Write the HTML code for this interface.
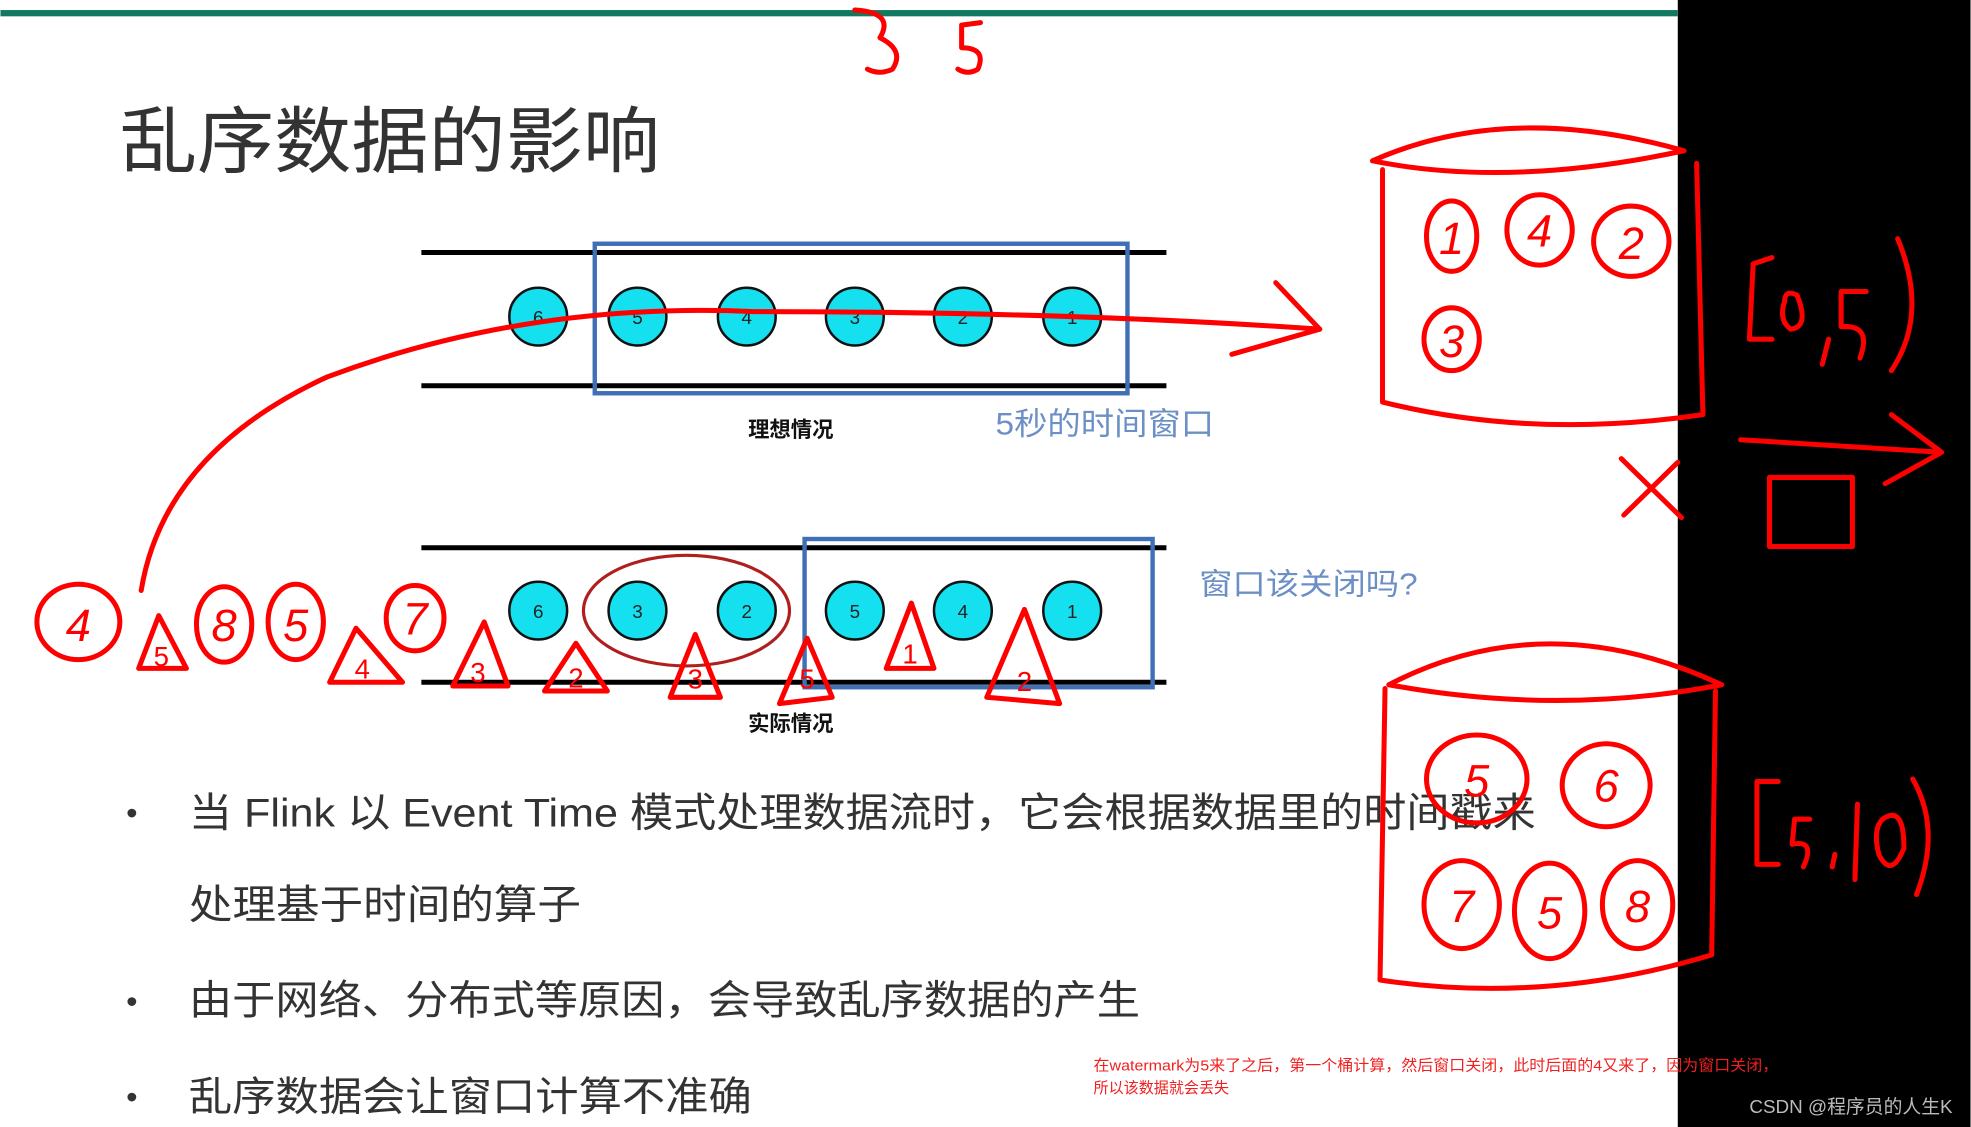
<!DOCTYPE html>
<html><head><meta charset="utf-8"><style>
html,body{margin:0;padding:0;background:#fff;overflow:hidden}
svg{display:block}
text{font-family:"Liberation Sans","Noto Sans CJK SC",sans-serif}
</style></head><body>
<svg width="1971" height="1127" viewBox="0 0 1568 897" xmlns="http://www.w3.org/2000/svg">
<rect width="1568" height="897" fill="#fff"/>
<rect x="1335" y="0" width="233" height="897" fill="#000"/>
<rect x="0" y="8" width="1335" height="5" fill="#10795f"/>
<text x="95" y="133" font-size="58" fill="#333" textLength="430" lengthAdjust="spacingAndGlyphs">乱序数据的影响</text>
<g stroke="#000" stroke-width="4"><line x1="335" y1="201" x2="928" y2="201"/><line x1="335" y1="307" x2="928" y2="307"/>
<line x1="335" y1="436" x2="928" y2="436"/><line x1="335" y1="543" x2="928" y2="543"/></g>
<rect x="473" y="194" width="424" height="119" fill="none" stroke="#3f6fb5" stroke-width="3.5"/>
<rect x="640" y="429" width="277" height="118" fill="none" stroke="#3f6fb5" stroke-width="3.5"/>
<g fill="#14e0ef" stroke="#111" stroke-width="2">
<circle cx="428" cy="252" r="23"/><circle cx="507" cy="252" r="23"/><circle cx="594" cy="252" r="23"/><circle cx="680" cy="252" r="23"/><circle cx="766" cy="252" r="23"/><circle cx="853" cy="252" r="23"/>
<circle cx="428" cy="486" r="23"/><circle cx="507" cy="486" r="23"/><circle cx="594" cy="486" r="23"/><circle cx="680" cy="486" r="23"/><circle cx="766" cy="486" r="23"/><circle cx="853" cy="486" r="23"/>
</g>
<g font-size="15" text-anchor="middle" fill="#222">
<text x="428" y="258">6</text><text x="507" y="258">5</text><text x="594" y="258">4</text><text x="680" y="258">3</text><text x="766" y="258">2</text><text x="853" y="258">1</text>
<text x="428" y="492">6</text><text x="507" y="492">3</text><text x="594" y="492">2</text><text x="680" y="492">5</text><text x="766" y="492">4</text><text x="853" y="492">1</text>
</g>
<ellipse cx="546" cy="486" rx="82" ry="44" fill="none" stroke="#b01e1e" stroke-width="2.5"/>
<text x="629" y="348" font-size="17" font-weight="bold" text-anchor="middle" fill="#111">理想情况</text>
<text x="629" y="582" font-size="17" font-weight="bold" text-anchor="middle" fill="#111">实际情况</text>
<text x="792" y="346" font-size="25" fill="#6c8fc6" textLength="174" lengthAdjust="spacingAndGlyphs">5秒的时间窗口</text>
<text x="954" y="473" font-size="24" fill="#6c8fc6" textLength="174" lengthAdjust="spacingAndGlyphs">窗口该关闭吗?</text>
<g font-size="32" fill="#333">
<text x="100" y="656" font-size="26">•</text><text x="150" y="658" textLength="1072" lengthAdjust="spacingAndGlyphs">当 Flink 以 Event Time 模式处理数据流时，它会根据数据里的时间戳来</text>
<text x="150" y="731" textLength="312" lengthAdjust="spacingAndGlyphs">处理基于时间的算子</text>
<text x="100" y="806" font-size="26">•</text><text x="150" y="807" textLength="757" lengthAdjust="spacingAndGlyphs">由于网络、分布式等原因，会导致乱序数据的产生</text>
<text x="100" y="882" font-size="26">•</text><text x="150" y="884" textLength="448" lengthAdjust="spacingAndGlyphs">乱序数据会让窗口计算不准确</text>
</g>
<text x="870" y="852" font-size="12" fill="#f02020" textLength="545" lengthAdjust="spacingAndGlyphs">在watermark为5来了之后，第一个桶计算，然后窗口关闭，此时后面的4又来了，因为窗口关闭，</text>
<text x="870" y="870" font-size="12" fill="#f02020">所以该数据就会丢失</text>
<text x="1392" y="886" font-size="15" fill="#bbb">CSDN @程序员的人生K</text>
<g fill="none" stroke="#f00" stroke-width="4" stroke-linecap="round" stroke-linejoin="round">
<path d="M680 8 Q712 10 700 30 Q720 40 710 55 Q700 60 690 55"/>
<path d="M780 18 L765 20 L765 38 Q785 38 778 55 Q770 60 762 55"/>
<path d="M112 470 Q130 360 260 300 Q420 240 600 248 Q850 248 1050 262"/>
<path d="M1015 225 L1050 262 L980 282"/>
<path d="M1092 128 Q1200 80 1340 120 Q1200 150 1092 128 Z"/>
<path d="M1100 135 L1100 320 Q1220 350 1355 330 L1350 130"/>
<ellipse cx="1155" cy="188" rx="20" ry="28"/><ellipse cx="1225" cy="183" rx="26" ry="28"/><ellipse cx="1298" cy="192" rx="30" ry="28"/><ellipse cx="1155" cy="270" rx="22" ry="25"/>
<path d="M1105 545 Q1230 480 1370 545 Q1240 570 1105 545 Z"/>
<path d="M1102 548 L1098 780 Q1230 800 1362 760 L1365 550"/>
<ellipse cx="1175" cy="620" rx="40" ry="35"/><ellipse cx="1278" cy="625" rx="35" ry="33"/>
<ellipse cx="1163" cy="720" rx="30" ry="35"/><ellipse cx="1233" cy="725" rx="28" ry="38"/><ellipse cx="1303" cy="720" rx="28" ry="35"/>
<path d="M1290 365 L1338 412 M1335 368 L1292 410"/>
<path d="M1385 350 L1545 360 M1505 330 L1545 360 L1500 385"/>
<rect x="1408" y="380" width="66" height="55"/>
<path d="M1410 205 L1395 210 L1392 270 L1410 270 M1420 240 Q1420 230 1430 235 Q1440 260 1425 262 Q1415 255 1420 240 M1455 270 L1450 290 M1485 232 L1465 232 L1465 260 Q1490 258 1480 285 M1510 190 Q1535 250 1505 295"/>
<path d="M1415 622 L1398 622 L1398 688 L1415 688 M1440 652 L1428 652 L1426 672 Q1445 668 1435 690 M1460 680 L1458 690 M1478 640 L1476 700 M1498 652 Q1515 640 1515 675 Q1505 700 1495 680 Q1490 660 1498 652 M1522 620 Q1545 660 1525 712"/>
<ellipse cx="62" cy="495" rx="33" ry="30"/><ellipse cx="178" cy="497" rx="22" ry="30"/><ellipse cx="235" cy="495" rx="22" ry="30"/><ellipse cx="330" cy="492" rx="23" ry="26"/>
<path d="M126 490 L110 532 L148 532 Z M283 500 L262 543 L320 543 Z M385 495 L360 546 L404 546 Z M458 512 L433 550 L483 550 Z M553 505 L533 555 L573 555 Z M642 508 L620 560 L662 555 Z M725 480 L705 532 L743 532 Z M815 485 L785 555 L843 560 Z"/>
</g>
<g fill="#f00" font-size="36" text-anchor="middle" font-style="italic">
<text x="1155" y="202">1</text><text x="1225" y="196">4</text><text x="1298" y="206">2</text><text x="1155" y="284">3</text>
<text x="1175" y="634">5</text><text x="1278" y="638">6</text><text x="1163" y="734">7</text><text x="1233" y="739">5</text><text x="1303" y="734">8</text>
<text x="62" y="510">4</text><text x="178" y="510">8</text><text x="235" y="510">5</text><text x="330" y="505">7</text>
</g>
<g fill="#f00" font-size="22" text-anchor="middle">
<text x="128" y="530">5</text><text x="288" y="540">4</text><text x="380" y="543">3</text><text x="458" y="547">2</text><text x="553" y="548">3</text><text x="642" y="548">5</text><text x="724" y="528">1</text><text x="815" y="550">2</text>
</g>
</svg>
</body></html>
